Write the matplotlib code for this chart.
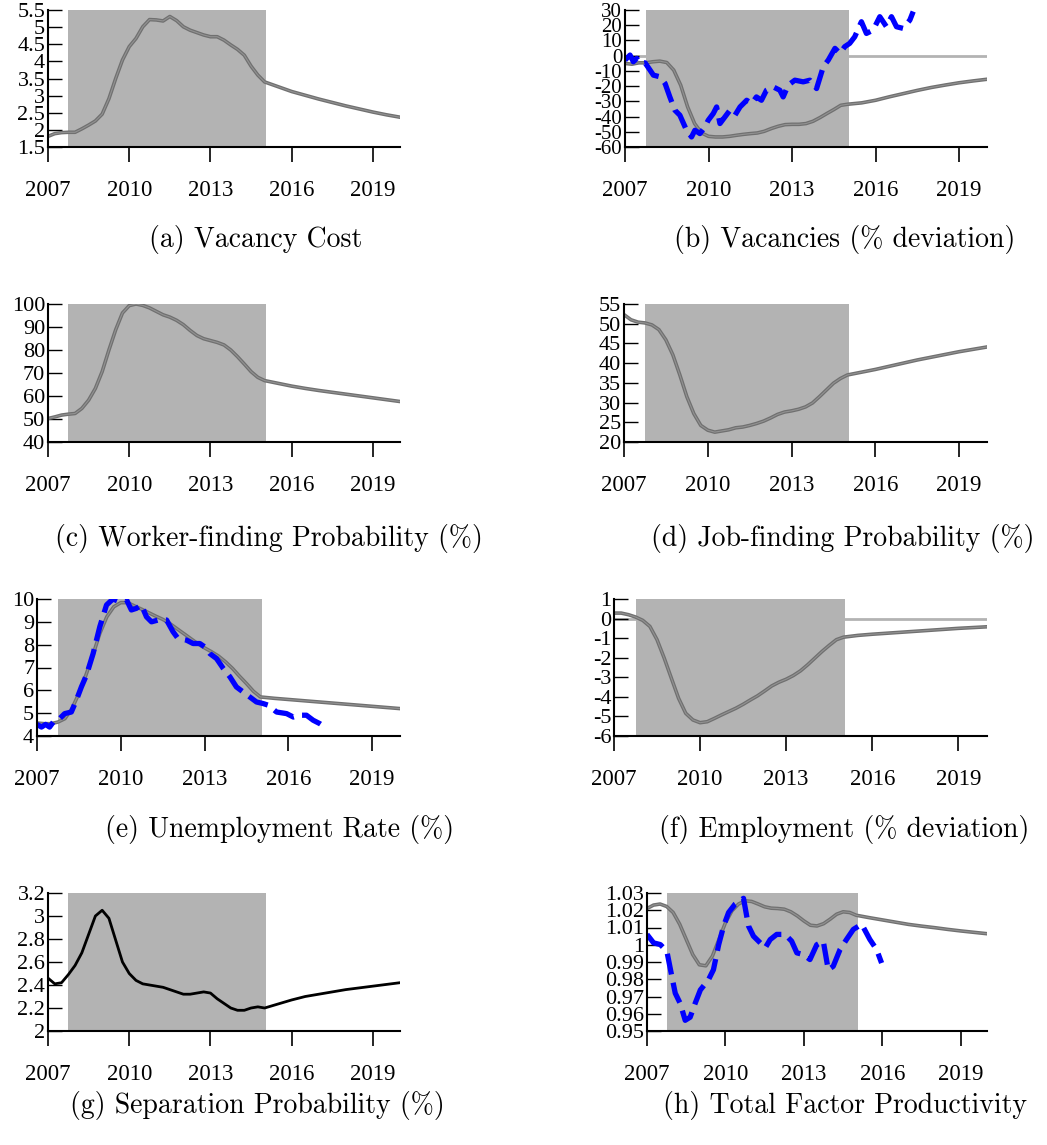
import matplotlib
matplotlib.use("Agg")
import matplotlib.pyplot as plt

plt.rcParams["font.family"] = "Liberation Serif"
plt.rcParams["axes.unicode_minus"] = False

W, H = 1047, 1145

# model grid: quarterly up to 2015, half-yearly afterwards
t_model = [2007 + q / 4 for q in range(33)] + [2015.5 + h / 2 for h in range(10)]

vacancy_cost = [1.81, 1.89, 1.92, 1.93, 1.93, 2.03, 2.14, 2.26, 2.46, 2.91,
                3.50, 4.04, 4.43, 4.67, 5.01, 5.22, 5.21, 5.18, 5.31, 5.19,
                5.01, 4.91, 4.84, 4.77, 4.72, 4.72, 4.62, 4.48, 4.35, 4.18,
                3.86, 3.60, 3.40,
                3.26, 3.12, 3.01, 2.90, 2.80, 2.70, 2.61, 2.52, 2.44, 2.37]

vacancies_model = [-5.1, -5.6, -4.7, -4.7, -4.0, -3.6, -4.5, -9.5, -19.4, -33.7,
                   -44.6, -50.8, -53.0, -53.4, -53.4, -53.0, -52.3, -51.7, -51.2, -50.8,
                   -49.7, -47.9, -46.4, -45.3, -45.1, -45.1, -44.6, -43.1, -40.7, -38.0,
                   -35.4, -32.6, -31.9,
                   -31.0, -29.3, -27.0, -24.9, -22.8, -20.9, -19.3, -17.8, -16.6, -15.5]

worker_finding = [50.2, 50.9, 51.7, 52.1, 52.4, 54.6, 58.2, 63.3, 70.6, 80.0,
                  88.8, 96.1, 99.3, 100.0, 99.4, 98.3, 96.8, 95.3, 94.3, 92.9,
                  91.0, 88.5, 86.3, 84.9, 84.1, 83.3, 82.2, 80.0, 77.1, 73.9,
                  70.6, 68.1, 66.7,
                  65.5, 64.3, 63.3, 62.4, 61.6, 60.8, 60.0, 59.2, 58.4, 57.6]

job_finding = [52.3, 51.0, 50.4, 50.2, 49.7, 48.5, 45.9, 42.1, 37.0, 31.5,
               27.2, 24.2, 23.0, 22.5, 22.8, 23.1, 23.6, 23.8, 24.2, 24.7,
               25.3, 26.1, 27.0, 27.6, 27.9, 28.3, 28.9, 29.9, 31.5, 33.2,
               34.9, 36.1, 37.0,
               37.7, 38.4, 39.2, 40.0, 40.8, 41.5, 42.2, 42.9, 43.5, 44.1]

unemp_model = [4.57, 4.54, 4.54, 4.61, 4.76, 5.20, 5.86, 6.66, 7.54, 8.49,
               9.22, 9.66, 9.84, 9.84, 9.69, 9.55, 9.40, 9.25, 9.11, 8.93,
               8.71, 8.49, 8.27, 8.05, 7.86, 7.69, 7.50, 7.25, 6.96, 6.62,
               6.30, 5.96, 5.71,
               5.65, 5.60, 5.55, 5.50, 5.45, 5.40, 5.35, 5.30, 5.25, 5.20]

employment = [0.28, 0.28, 0.20, 0.08, -0.09, -0.40, -1.08, -2.02, -3.05, -4.07,
              -4.84, -5.18, -5.32, -5.27, -5.10, -4.92, -4.75, -4.58, -4.38, -4.16,
              -3.95, -3.70, -3.44, -3.25, -3.10, -2.91, -2.67, -2.36, -2.02, -1.68,
              -1.37, -1.08, -0.95,
              -0.86, -0.80, -0.75, -0.70, -0.65, -0.60, -0.55, -0.50, -0.46, -0.42]

separation = [2.46, 2.41, 2.42, 2.49, 2.57, 2.68, 2.84, 3.00, 3.05, 2.98,
              2.79, 2.60, 2.50, 2.44, 2.41, 2.40, 2.39, 2.38, 2.36, 2.34,
              2.32, 2.32, 2.33, 2.34, 2.33, 2.28, 2.24, 2.20, 2.18, 2.18,
              2.20, 2.21, 2.20,
              2.235, 2.27, 2.30, 2.32, 2.34, 2.36, 2.375, 2.39, 2.405, 2.42]

tfp_model = [1.0210, 1.0230, 1.0236, 1.0222, 1.0187, 1.0119, 1.0031, 0.9943, 0.9884, 0.9878,
             0.9934, 1.0031, 1.0128, 1.0197, 1.0236, 1.0255, 1.0251, 1.0236, 1.0220, 1.0212,
             1.0210, 1.0206, 1.0191, 1.0167, 1.0138, 1.0113, 1.0109, 1.0122, 1.0148, 1.0177,
             1.0191, 1.0187, 1.0171,
             1.0157, 1.0144, 1.0131, 1.0118, 1.0108, 1.0099, 1.0089, 1.0080, 1.0072, 1.0064]

# observed data
vac_t = [2007.00, 2007.18, 2007.30, 2007.42, 2007.54, 2007.72, 2007.90, 2008.02, 2008.26, 2008.44,
         2008.61, 2008.79, 2008.97, 2009.21, 2009.39, 2009.51, 2009.69, 2009.87, 2009.99, 2010.17,
         2010.29, 2010.41, 2010.59, 2010.77, 2010.95, 2011.13, 2011.37, 2011.55, 2011.72, 2011.90,
         2012.08, 2012.32, 2012.56, 2012.68, 2012.86, 2013.10, 2013.40, 2013.64, 2013.88, 2014.12,
         2014.30, 2014.54, 2014.72, 2014.89, 2015.07, 2015.25, 2015.49, 2015.67, 2015.91, 2016.15,
         2016.39, 2016.57, 2016.75, 2016.99, 2017.23, 2017.35]
vac_data = [-2.9, 0.4, -4.0, -1.8, -5.1, -4.7, -9.5, -12.8, -13.9, -18.3,
            -27.1, -35.8, -39.1, -49.0, -53.4, -49.0, -51.2, -46.8, -42.4, -38.0,
            -33.7, -44.6, -40.2, -35.8, -39.1, -33.7, -29.3, -31.5, -27.1, -29.3,
            -22.7, -20.5, -22.7, -27.1, -19.4, -16.1, -17.2, -16.1, -21.6, -7.3,
            -2.9, 4.8, 1.5, 5.9, 8.1, 12.4, 22.3, 14.6, 16.8, 25.6,
            19.0, 25.6, 19.0, 17.9, 23.4, 29.0]

unemp_t = [2007.00, 2007.16, 2007.31, 2007.45, 2007.63, 2007.81, 2007.99, 2008.23, 2008.41, 2008.59,
           2008.77, 2009.01, 2009.25, 2009.49, 2009.72, 2009.96, 2010.20, 2010.38, 2010.56, 2010.74,
           2010.92, 2011.10, 2011.34, 2011.64, 2011.87, 2012.05, 2012.35, 2012.59, 2012.83, 2013.01,
           2013.19, 2013.43, 2013.67, 2013.91, 2014.14, 2014.38, 2014.62, 2014.86, 2015.10, 2015.28,
           2015.58, 2015.94, 2016.18, 2016.41, 2016.65, 2016.89, 2017.13, 2017.31]
unemp_data = [4.51, 4.39, 4.51, 4.39, 4.69, 4.76, 4.98, 5.05, 5.57, 6.15,
              6.66, 7.61, 8.79, 9.74, 10.0, 9.88, 9.98, 9.52, 9.59, 9.74,
              9.22, 9.00, 9.08, 9.08, 8.57, 8.27, 8.20, 8.05, 8.05, 7.90,
              7.61, 7.39, 6.96, 6.59, 6.15, 5.93, 5.71, 5.49, 5.42, 5.35,
              5.05, 4.98, 4.83, 4.91, 4.91, 4.69, 4.54, 4.39]

tfp_t = [2007.00, 2007.25, 2007.51, 2007.76, 2007.95, 2008.08, 2008.27, 2008.46, 2008.65, 2008.84,
         2009.04, 2009.35, 2009.54, 2009.74, 2009.93, 2010.12, 2010.37, 2010.69, 2010.88, 2011.07,
         2011.33, 2011.52, 2011.71, 2011.96, 2012.28, 2012.53, 2012.73, 2012.98, 2013.23, 2013.49,
         2013.74, 2013.93, 2014.12, 2014.38, 2014.63, 2014.89, 2015.21, 2015.52, 2015.78, 2015.97]
tfp_data = [1.0060, 1.0011, 1.0001, 0.9962, 0.9816, 0.9719, 0.9660, 0.9562, 0.9580, 0.9660,
            0.9738, 0.9797, 0.9855, 1.0000, 1.0109, 1.0187, 1.0236, 1.0269, 1.0109, 1.0050,
            1.0011, 0.9982, 1.0030, 1.0060, 1.0060, 1.0021, 0.9953, 0.9943, 0.9914, 1.0000,
            1.0021, 0.9855, 0.9875, 0.9972, 1.0031, 1.0089, 1.0119, 1.0031, 0.9972, 0.9894]

x_ticks = [2007, 2010, 2013, 2016, 2019]
recession = (2007.75, 2015.05)

SHADE = "#b3b3b3"
BLUE = "#0000ff"

fig = plt.figure(figsize=(W / 100, H / 100), dpi=100)


def px_rect(l, t, r, b):
    return [l / W, 1 - b / H, (r - l) / W, (b - t) / H]


def panel(rect, yticks, caption, cap_xy, ysize=16):
    ax = fig.add_axes(px_rect(*rect))
    ax.set_xlim(2007, 2020)
    ax.set_ylim(yticks[0], yticks[-1])
    ax.axvspan(*recession, color=SHADE, lw=0, zorder=1)
    ax.set_xticks(x_ticks)
    ax.set_yticks(yticks)
    ax.set_yticklabels(["%g" % round(v, 4) for v in yticks])
    for s in ["top", "right"]:
        ax.spines[s].set_visible(False)
    for s in ["left", "bottom"]:
        ax.spines[s].set_linewidth(1.5)
        ax.spines[s].set_zorder(5)
    ax.tick_params(axis="x", direction="out", length=11, width=1.2,
                   pad=13, labelsize=16.5)
    ax.tick_params(axis="y", direction="in", length=10, width=1.0,
                   pad=2, labelsize=ysize)
    fig.text(cap_xy[0] / W, 1 - cap_xy[1] / H, caption, ha="center",
             va="center", fontsize=20, family="cmr10")
    return ax


def model_line(ax, y):
    ax.plot(t_model, y, color="#707070", lw=2.6, zorder=3)
    ax.plot(t_model, y, color="#929292", lw=0.8, zorder=3)


def data_line(ax, t, y):
    ax.plot(t, y, color=BLUE, lw=3.8, dashes=(4, 1.6), zorder=4)


# (a)
ax = panel((48, 10, 400, 147), [1.5, 2, 2.5, 3, 3.5, 4, 4.5, 5, 5.5],
           "(a) Vacancy Cost", (256, 240))
model_line(ax, vacancy_cost)

# (b)
ax = panel((625, 10, 987, 147), list(range(-60, 31, 10)),
           "(b) Vacancies (% deviation)", (845, 240), ysize=15)
ax.axhline(0, color=SHADE, lw=2, zorder=0)
model_line(ax, vacancies_model)
data_line(ax, vac_t, vac_data)

# (c)
ax = panel((48, 304, 400, 442), list(range(40, 101, 10)),
           "(c) Worker-finding Probability (%)", (269, 538))
model_line(ax, worker_finding)

# (d)
ax = panel((624, 304, 987, 442), list(range(20, 56, 5)),
           "(d) Job-finding Probability (%)", (843, 538))
model_line(ax, job_finding)

# (e)
ax = panel((37, 599, 400, 736), list(range(4, 11)),
           "(e) Unemployment Rate (%)", (280, 830))
model_line(ax, unemp_model)
data_line(ax, unemp_t, unemp_data)

# (f)
ax = panel((614, 599, 987, 736), list(range(-6, 2)),
           "(f) Employment (% deviation)", (844, 830))
ax.axhline(0, color=SHADE, lw=2, zorder=0)
model_line(ax, employment)

# (g)
ax = panel((48, 893, 400, 1031), [2.0, 2.2, 2.4, 2.6, 2.8, 3.0, 3.2],
           "(g) Separation Probability (%)", (257, 1105))
ax.plot(t_model, separation, color="black", lw=2.0, zorder=3)

# (h)
ax = panel((647, 893, 987, 1031),
           [0.95, 0.96, 0.97, 0.98, 0.99, 1.0, 1.01, 1.02, 1.03],
           "(h) Total Factor Productivity", (845, 1105))
model_line(ax, tfp_model)
data_line(ax, tfp_t, tfp_data)

fig.savefig("out.png", dpi=100)
